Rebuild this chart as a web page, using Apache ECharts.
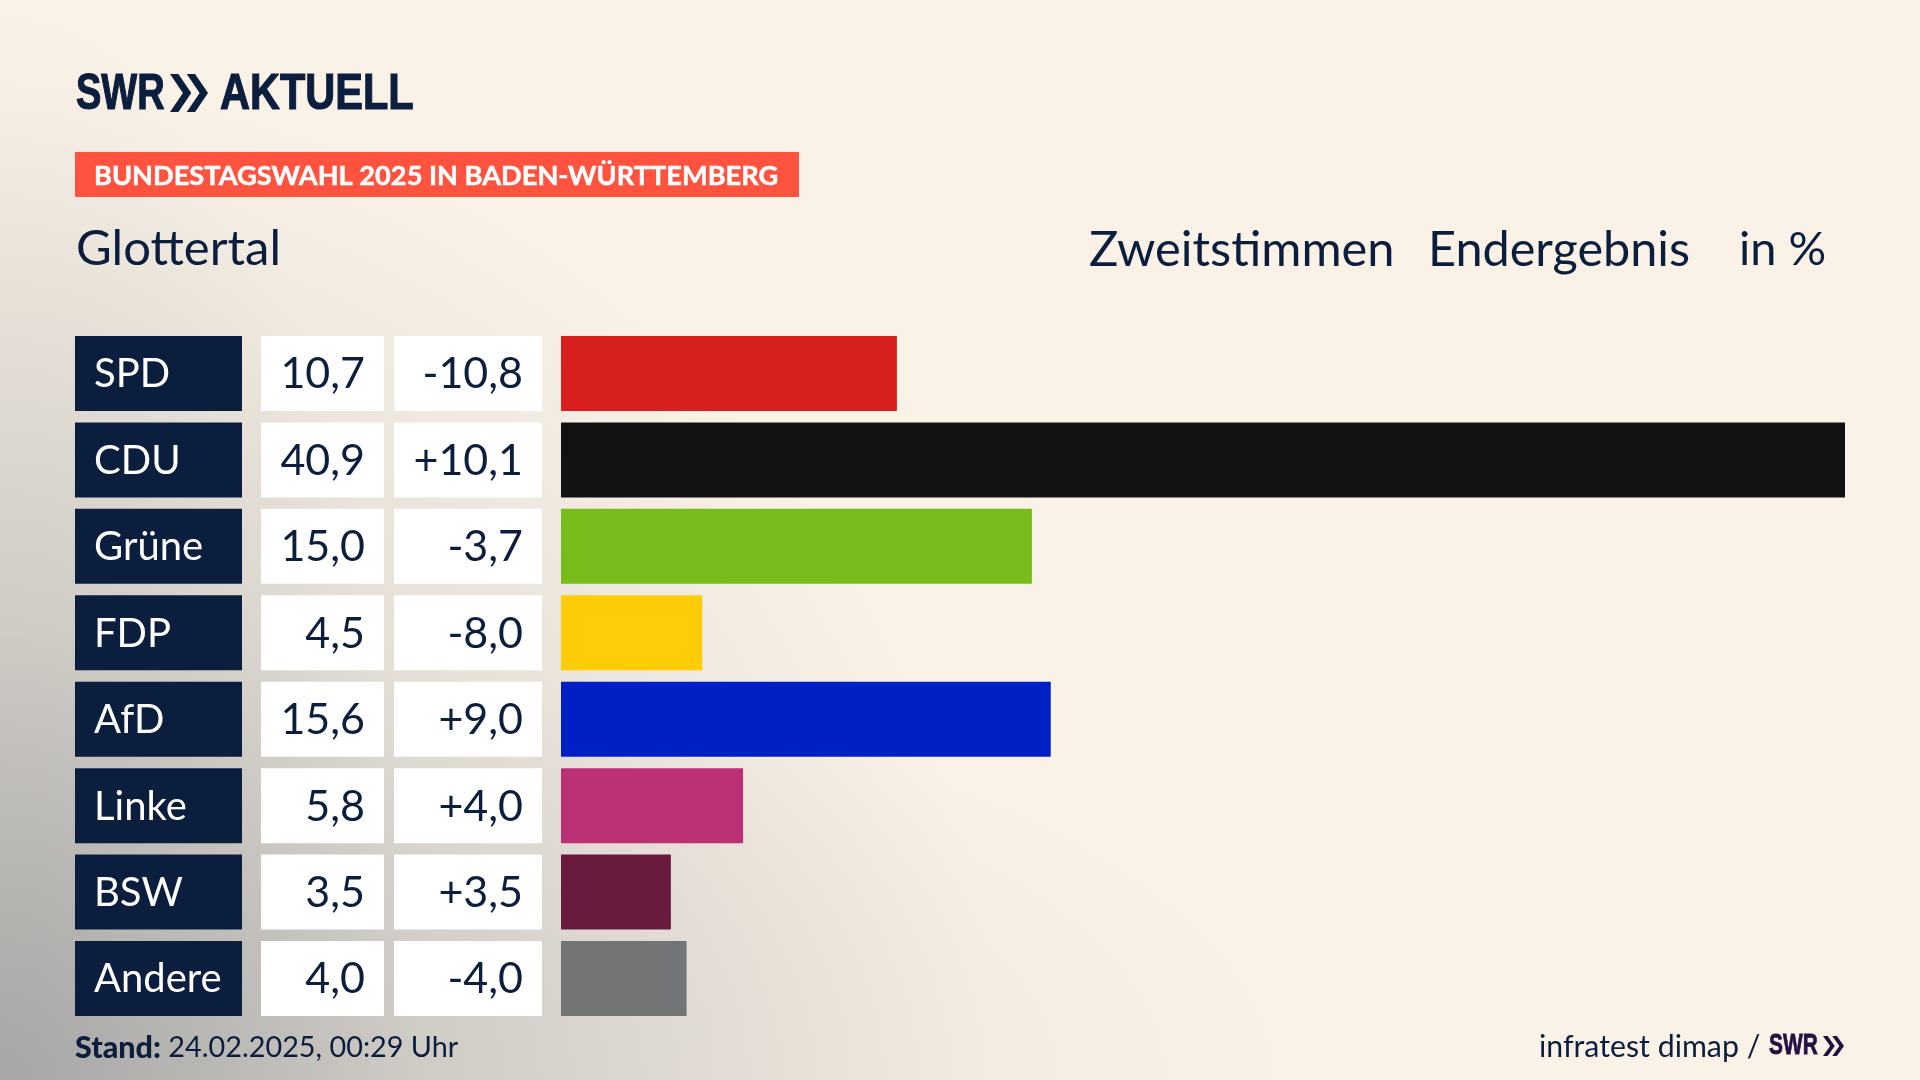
<!DOCTYPE html>
<html><head><meta charset="utf-8">
<style>html,body{margin:0;padding:0;background:#faf2e7}#c{width:1920px;height:1080px}</style>
<script src="https://cdn.jsdelivr.net/npm/echarts@6/dist/echarts.min.js"></script>
</head><body><div id="c"></div>
<script>
const parties = ['SPD','CDU','Grüne','FDP','AfD','Linke','BSW','Andere'];
const shares  = [10.7,40.9,15.0,4.5,15.6,5.8,3.5,4.0];
const changes = [-10.8,10.1,-3.7,-8.0,9.0,4.0,3.5,-4.0];
const colors  = ['#d71f1d','#121212','#78bc1b','#ffcc0a','#0020c6','#bc3075','#691a3f','#737476'];

const navy = '#0c1e3e';
const font = 'Lato';
const logoFont = 'Liberation Sans';
const de = v => v.toFixed(1).replace('.', ',');
const signed = v => (v > 0 ? '+' : '') + de(v);

function cellAxis(data, margin, boxW, bg, fg, align, size) {
  return {
    type:'category', inverse:true, data, position:'left',
    axisLine:{show:false}, axisTick:{show:false}, splitLine:{show:false},
    axisLabel:{
      show:true, interval:0, margin, align, verticalAlign:'middle',
      formatter:v=>`{t|${v}}`,
      rich:{t:{color:fg,fontFamily:font,fontSize:size,lineHeight:77}},
      color:fg, fontFamily:font, fontSize:size,
      backgroundColor:bg, width:boxW, height:75,
      overflow:'none',
      padding: align==='left' ? [0,0,0,19] : [0,19,0,0]
    }
  };
}
function txt(text,x,y,size,fill,extra){
  return {type:'text',x,y,z:5,style:Object.assign({text,fill,fontFamily:font,fontSize:size,verticalAlign:'middle',align:'left'},extra||{})};
}
function chevrons(x,y,w,h,fill){
  const a=w*0.56, t=w*0.22;
  const one=ox=>({type:'polygon',z:5,shape:{points:[[ox,y],[ox+t,y],[ox+a,y+h/2],[ox+t,y+h],[ox,y+h],[ox+a-t,y+h/2]]},style:{fill}});
  return [one(x),one(x+w-a)];
}
// soft corner shadow: a radial gradient stretched by scaling a unit square anchored to the bottom-left corner
function shade(rx,ry,alpha,z){
  return {type:'rect',z,x:0,y:1080-ry,scaleX:rx/1000,scaleY:ry/1000,
    shape:{x:0,y:0,width:1000,height:1000},
    style:{fill:{type:'radial',x:0,y:1,r:1,colorStops:[
      {offset:0,color:`rgba(115,120,125,${alpha})`},
      {offset:1,color:'rgba(115,120,125,0)'}]}}};
}
const logoStyle = {fill:navy,stroke:navy,lineWidth:1.2,fontFamily:logoFont,fontWeight:'bold',fontSize:50,verticalAlign:'middle'};

const option = {
  animation:false,
  backgroundColor:'#faf2e7',
  grid:{left:561,top:330.3,width:1284,height:691.4,containLabel:false},
  xAxis:{type:'value',min:0,max:40.9,show:false},
  yAxis:[
    {type:'category',inverse:true,data:parties,axisLine:{show:false},axisTick:{show:false},axisLabel:{show:false}},
    cellAxis(parties,486,148,navy,'#ffffff','left',40),
    cellAxis(shares.map(de),177,104,'#ffffff',navy,'right',43),
    cellAxis(changes.map(signed),19,129,'#ffffff',navy,'right',43)
  ],
  series:[{
    type:'bar',barWidth:75,silent:true,
    data:shares.map((v,i)=>({value:v,itemStyle:{color:colors[i]}}))
  }],
  graphic:[
    shade(1000,1000,.36,-10),
    shade(1300,450,.2,-9),
    shade(420,1080,.26,-8),
    {type:'text',x:76,y:95,z:5,scaleX:.76,style:Object.assign({text:'SWR'},logoStyle)},
    ...chevrons(170,74,38,38,navy),
    {type:'text',x:220,y:95,z:5,scaleX:.83,style:Object.assign({text:'AKTUELL'},logoStyle)},
    {type:'rect',z:1,shape:{x:75,y:152,width:724,height:45},style:{fill:'#ff523f'}},
    txt('BUNDESTAGSWAHL 2025 IN BADEN-WÜRTTEMBERG',94,176,27.2,'#ffffff',{fontWeight:'bold',stroke:'#ffffff',lineWidth:.5}),
    txt('Glottertal',76,249,49,navy),
    txt('Zweitstimmen',1089,250,48.8,navy),
    txt('Endergebnis',1428,250,48.6,navy),
    txt('in %',1739,250,47,navy),
    {type:'text',x:75,y:1048,z:5,style:{text:'{b|Stand:} {r|24.02.2025, 00:29 Uhr}',fill:navy,fontFamily:font,fontSize:29,verticalAlign:'middle',rich:{b:{fontFamily:font,fontWeight:900,fontSize:30.5,fill:navy},r:{fontFamily:font,fontSize:28.8,fill:navy}}}},
    txt('infratest dimap /',1539,1047,30.3,navy),
    {type:'text',x:1769,y:1046,z:5,scaleX:.72,style:{text:'SWR',fill:'#230f40',stroke:'#230f40',lineWidth:.8,fontFamily:logoFont,fontWeight:'bold',fontSize:29,verticalAlign:'middle'}},
    ...chevrons(1823,1036,21,20,'#230f40')
  ]
};
const chart = echarts.init(document.getElementById('c'),null,{renderer:'canvas',width:1920,height:1080});
chart.setOption(option);
</script></body></html>
